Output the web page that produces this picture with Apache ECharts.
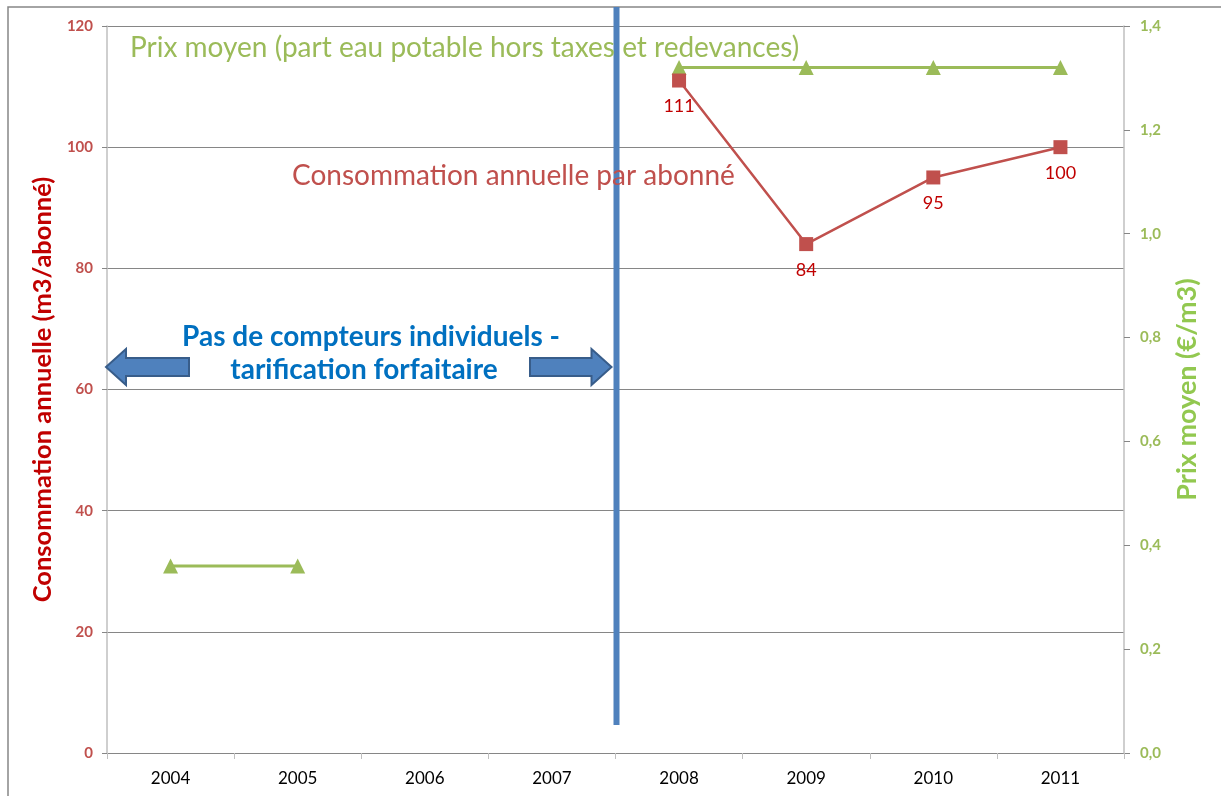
<!DOCTYPE html>
<html>
<head>
<meta charset="utf-8">
<script src="https://cdn.jsdelivr.net/npm/echarts@6/dist/echarts.min.js"></script>
<style>
  html, body { margin: 0; padding: 0; background: #fff; }
  #main { width: 1221px; height: 796px; }
</style>
</head>
<body>
<div id="main"></div>
<script>
// données
var annees = ['2004', '2005', '2006', '2007', '2008', '2009', '2010', '2011'];
var consommation = [null, null, null, null, 111, 84, 95, 100];
var prixMoyen = [0.36, 0.36, null, null, 1.32, 1.32, 1.32, 1.32];

var police = 'Lato, "Open Sans", sans-serif';
var rouge = '#c0504d';
var vert = '#9bbb59';
var bleu = '#4f81bd';

var myChart = echarts.init(document.getElementById('main'));

var option = {
    backgroundColor: '#fff',
    animation: false,
    textStyle: { fontFamily: police },
    grid: { left: 107, right: 97, top: 26, bottom: 43 },
    xAxis: {
        type: 'category',
        data: annees,
        boundaryGap: true,
        axisLine: { show: false },
        axisTick: { show: true, length: 6, lineStyle: { color: '#bfbfbf' } },
        axisLabel: { color: '#000', fontSize: 17, margin: 17, fontFamily: police },
        splitLine: { show: false }
    },
    yAxis: [
        {
            type: 'value',
            min: 0, max: 120, interval: 20,
            name: 'Consommation annuelle (m3/abonné)',
            nameLocation: 'middle',
            nameGap: 46,
            nameTextStyle: { color: '#c00000', fontSize: 25.5, fontWeight: 'bold', fontFamily: police },
            axisLine: { show: true, lineStyle: { color: '#bfbfbf', width: 1.5 } },
            axisTick: { show: true, length: 5, lineStyle: { color: '#868686' } },
            axisLabel: { color: rouge, fontSize: 15, fontWeight: 'bold', margin: 14, fontFamily: police },
            splitLine: { show: true, lineStyle: { color: '#868686', width: 1 } }
        },
        {
            type: 'value',
            min: 0, max: 1.4, interval: 0.2,
            position: 'right',
            name: 'Prix moyen (€/m3)',
            nameLocation: 'middle',
            nameGap: 50,
            nameTextStyle: { color: '#92c850', fontSize: 27, fontWeight: 'bold', fontFamily: police },
            axisLine: { show: true, lineStyle: { color: '#bfbfbf', width: 1.5 } },
            axisTick: { show: true, length: 6, lineStyle: { color: '#868686' } },
            axisLabel: {
                color: vert, fontSize: 15, fontWeight: 'bold', margin: 16, fontFamily: police,
                formatter: function (v) { return v.toFixed(1).replace('.', ','); }
            },
            splitLine: { show: false }
        }
    ],
    series: [
        {
            name: 'Prix moyen',
            type: 'line',
            yAxisIndex: 1,
            data: prixMoyen,
            connectNulls: false,
            symbol: 'triangle',
            symbolSize: 15,
            itemStyle: { color: vert },
            lineStyle: { color: vert, width: 3 },
            z: 3
        },
        {
            name: 'Consommation',
            type: 'line',
            yAxisIndex: 0,
            data: consommation,
            symbol: 'rect',
            symbolSize: 14,
            itemStyle: { color: rouge },
            lineStyle: { color: rouge, width: 2.5 },
            label: {
                show: true, position: 'bottom', distance: 10,
                color: '#c00000', fontSize: 18, fontFamily: police
            },
            z: 4
        }
    ]
};

myChart.setOption(option);

// annotations : ligne verticale, flèches et textes
var xLigne = (myChart.convertToPixel({ xAxisIndex: 0 }, '2007') + myChart.convertToPixel({ xAxisIndex: 0 }, '2008')) / 2 + 1;
var xGauche = 107;
var yFleche = 367;
var styleFleche = { fill: bleu, stroke: '#385d8a', lineWidth: 2 };

function fleche(pointe, dos, sens) {
    // sens = -1 : pointe à gauche, 1 : pointe à droite
    var tete = pointe - sens * 20;
    return [
        [pointe, yFleche],
        [tete, yFleche - 18],
        [tete, yFleche - 9],
        [dos, yFleche - 9],
        [dos, yFleche + 9],
        [tete, yFleche + 9],
        [tete, yFleche + 18]
    ];
}

myChart.setOption({
    graphic: [
        {
            type: 'rect', silent: true, z: 0,
            shape: { x: 8, y: 7, width: 1300, height: 900 },
            style: { fill: 'none', stroke: '#868686', lineWidth: 1.5 }
        },
        {
            type: 'line', z: 10,
            shape: { x1: xLigne, y1: 7, x2: xLigne, y2: 725 },
            style: { stroke: bleu, lineWidth: 6 }
        },
        {
            type: 'polygon', z: 10,
            shape: { points: fleche(xGauche - 1, 189, -1) },
            style: styleFleche
        },
        {
            type: 'polygon', z: 10,
            shape: { points: fleche(xLigne - 5, 530, 1) },
            style: styleFleche
        },
        {
            type: 'text', z: 10, x: 371, y: 337,
            style: {
                text: 'Pas de compteurs individuels -',
                align: 'center', verticalAlign: 'middle',
                fill: '#0070c0', font: 'bold 28px ' + police
            }
        },
        {
            type: 'text', z: 10, x: 364, y: 370,
            style: {
                text: 'tarification forfaitaire',
                align: 'center', verticalAlign: 'middle',
                fill: '#0070c0', font: 'bold 28px ' + police
            }
        },
        {
            type: 'text', z: 10, x: 130, y: 48,
            style: {
                text: 'Prix moyen (part eau potable hors taxes et redevances)',
                verticalAlign: 'middle',
                fill: vert, font: '28px ' + police
            }
        },
        {
            type: 'text', z: 10, x: 292, y: 176,
            style: {
                text: 'Consommation annuelle par abonné',
                verticalAlign: 'middle',
                fill: rouge, font: '28px ' + police
            }
        }
    ]
});
</script>
</body>
</html>
